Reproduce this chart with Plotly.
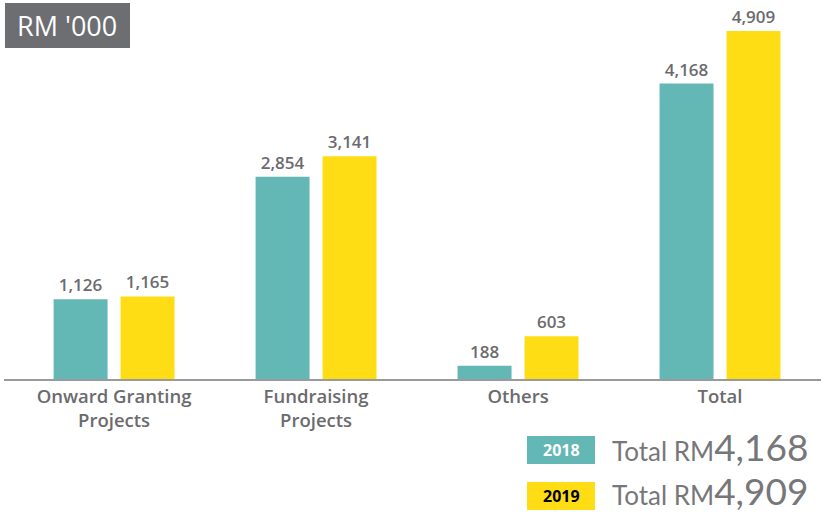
import plotly.graph_objects as go

categories = ["Onward Granting<br>Projects", "Fundraising<br>Projects", "Others", "Total"]
values_2018 = [1126, 2854, 188, 4168]
values_2019 = [1165, 3141, 603, 4909]
series_names = ["2018", "2019"]

TEAL = "#63b7b5"
YELLOW = "#ffdd15"
GRAY = "#6b6b6e"
FONT = "Open Sans"

W, H = 823, 514
ML, MR, MT, MB = 4, 2, 0, 135
PW, PH = W - ML - MR, H - MT - MB


def px(x, y):
    return (x - ML) / PW, (H - MB - y) / PH


fig = go.Figure()
for name, vals, col in [(series_names[0], values_2018, TEAL), (series_names[1], values_2019, YELLOW)]:
    fig.add_trace(go.Bar(
        x=categories, y=vals, name=name, marker=dict(color=col, line=dict(width=0)),
        text=[f"{v:,}" for v in vals], textposition="outside", cliponaxis=False,
        textfont=dict(family=FONT, size=17, color=GRAY, weight=600),
    ))

fig.update_layout(
    width=W, height=H, margin=dict(l=ML, r=MR, t=MT, b=MB),
    paper_bgcolor="white", plot_bgcolor="white", showlegend=False,
    barmode="group", bargap=0.337, bargroupgap=0.194,
    xaxis=dict(range=[-0.545, 3.5], showline=True, linecolor="#9a9a9a", linewidth=1.5,
               ticks="", tickfont=dict(family=FONT, size=18.5, color=GRAY, weight=600),
               showgrid=False, fixedrange=True),
    yaxis=dict(range=[0, 4909 * 379 / 348], visible=False, showgrid=False, fixedrange=True),
)

# Unit box
fig.add_shape(type="rect", xref="paper", yref="paper",
              x0=px(5, 0)[0], x1=px(130, 0)[0], y0=px(0, 48)[1], y1=px(0, 3)[1],
              fillcolor="#6d6e71", line=dict(width=0), layer="above")
cx, cy = px(67, 26)
fig.add_annotation(x=cx, y=cy, xref="paper", yref="paper", text="RM '000", showarrow=False,
                   font=dict(family=FONT, size=27, color="white"), xanchor="center", yanchor="middle")

# Legend boxes
totals = [values_2018[-1], values_2019[-1]]
for i, (name, col, tcol) in enumerate([(series_names[0], TEAL, "white"), (series_names[1], YELLOW, "black")]):
    top = 436 + i * 46
    fig.add_shape(type="rect", xref="paper", yref="paper",
                  x0=px(527, 0)[0], x1=px(595, 0)[0], y0=px(0, top + 28)[1], y1=px(0, top)[1],
                  fillcolor=col, line=dict(width=0))
    bx, by = px(561, top + 14)
    fig.add_annotation(x=bx, y=by, xref="paper", yref="paper", text=f"<b>{name}</b>", showarrow=False,
                       font=dict(family=FONT, size=16, color=tcol), xanchor="center", yanchor="middle")
    tx, ty = px(810, top + 10 - i * 2)
    fig.add_annotation(x=tx, y=ty, xref="paper", yref="paper",
                       text=f"Total RM<span style='font-size:37px'>{totals[i]:,}</span>",
                       showarrow=False, font=dict(family="Lato", size=26, color="#77777a"),
                       xanchor="right", yanchor="middle")

fig.write_html("out.html", post_script="document.body.style.margin='0px';",
               config={"displayModeBar": False})
